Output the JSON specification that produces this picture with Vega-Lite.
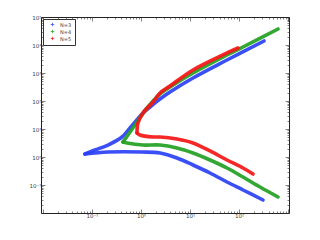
{
  "$schema": "https://vega.github.io/schema/vega-lite/v6.json",
  "width": 248,
  "height": 196,
  "autosize": {"type": "none"},
  "padding": {"left": 41, "top": 17, "right": 31, "bottom": 27},
  "background": "white",
  "config": {
    "view": {"stroke": "#222", "strokeWidth": 1},
    "axis": {
      "domain": false,
      "grid": false,
      "title": null,
      "labelFont": "DejaVu Sans",
      "labelFontSize": 5.5,
      "labelColor": "#444",
      "tickColor": "#333",
      "tickWidth": 0.6,
      "labelOverlap": false
    }
  },
  "data": {
    "values": [
      {"N": "N=3", "b": "u", "i": 0, "x": 0.072, "y": 1.28},
      {"N": "N=3", "b": "u", "i": 1, "x": 0.1151, "y": 1.78},
      {"N": "N=3", "b": "u", "i": 2, "x": 0.2121, "y": 2.68},
      {"N": "N=3", "b": "u", "i": 3, "x": 0.4095, "y": 5.18},
      {"N": "N=3", "b": "u", "i": 4, "x": 0.5963, "y": 10.9},
      {"N": "N=3", "b": "u", "i": 5, "x": 1.099, "y": 37.3},
      {"N": "N=3", "b": "u", "i": 6, "x": 1.526, "y": 61.1},
      {"N": "N=3", "b": "u", "i": 7, "x": 2.442, "y": 118},
      {"N": "N=3", "b": "u", "i": 8, "x": 3.907, "y": 210},
      {"N": "N=3", "b": "u", "i": 9, "x": 11.51, "y": 663},
      {"N": "N=3", "b": "u", "i": 10, "x": 56.9, "y": 2910},
      {"N": "N=3", "b": "u", "i": 11, "x": 323.8, "y": 13900},
      {"N": "N=3", "b": "l", "i": 0, "x": 0.072, "y": 1.28},
      {"N": "N=3", "b": "l", "i": 1, "x": 0.2121, "y": 1.51},
      {"N": "N=3", "b": "l", "i": 2, "x": 1.048, "y": 1.51},
      {"N": "N=3", "b": "l", "i": 3, "x": 2.442, "y": 1.39},
      {"N": "N=3", "b": "l", "i": 4, "x": 5.429, "y": 0.921},
      {"N": "N=3", "b": "l", "i": 5, "x": 11.51, "y": 0.518},
      {"N": "N=3", "b": "l", "i": 6, "x": 25.6, "y": 0.268},
      {"N": "N=3", "b": "l", "i": 7, "x": 56.9, "y": 0.128},
      {"N": "N=3", "b": "l", "i": 8, "x": 120.7, "y": 0.0663},
      {"N": "N=3", "b": "l", "i": 9, "x": 309.0, "y": 0.0291},
      {"N": "N=4", "b": "u", "i": 0, "x": 0.4292, "y": 3.43},
      {"N": "N=4", "b": "u", "i": 1, "x": 0.5429, "y": 6.11},
      {"N": "N=4", "b": "u", "i": 2, "x": 0.8286, "y": 17.8},
      {"N": "N=4", "b": "u", "i": 3, "x": 1.326, "y": 56.2},
      {"N": "N=4", "b": "u", "i": 4, "x": 2.442, "y": 178},
      {"N": "N=4", "b": "u", "i": 5, "x": 3.907, "y": 316},
      {"N": "N=4", "b": "u", "i": 6, "x": 11.51, "y": 1000},
      {"N": "N=4", "b": "u", "i": 7, "x": 56.9, "y": 4394},
      {"N": "N=4", "b": "u", "i": 8, "x": 120.7, "y": 8490},
      {"N": "N=4", "b": "u", "i": 9, "x": 625.2, "y": 37280},
      {"N": "N=4", "b": "l", "i": 0, "x": 0.4292, "y": 3.43},
      {"N": "N=4", "b": "l", "i": 1, "x": 0.5179, "y": 3.16},
      {"N": "N=4", "b": "l", "i": 2, "x": 1.099, "y": 2.68},
      {"N": "N=4", "b": "l", "i": 3, "x": 2.442, "y": 2.68},
      {"N": "N=4", "b": "l", "i": 4, "x": 5.429, "y": 2.1},
      {"N": "N=4", "b": "l", "i": 5, "x": 11.51, "y": 1.39},
      {"N": "N=4", "b": "l", "i": 6, "x": 25.6, "y": 0.781},
      {"N": "N=4", "b": "l", "i": 7, "x": 56.9, "y": 0.405},
      {"N": "N=4", "b": "l", "i": 8, "x": 120.7, "y": 0.193},
      {"N": "N=4", "b": "l", "i": 9, "x": 268.3, "y": 0.0848},
      {"N": "N=4", "b": "l", "i": 10, "x": 625.2, "y": 0.0373},
      {"N": "N=5", "b": "u", "i": 0, "x": 0.8286, "y": 7.2},
      {"N": "N=5", "b": "u", "i": 1, "x": 0.8685, "y": 16.4},
      {"N": "N=5", "b": "u", "i": 2, "x": 1.099, "y": 37.3},
      {"N": "N=5", "b": "u", "i": 3, "x": 1.758, "y": 92.1},
      {"N": "N=5", "b": "u", "i": 4, "x": 2.442, "y": 193},
      {"N": "N=5", "b": "u", "i": 5, "x": 3.907, "y": 343},
      {"N": "N=5", "b": "u", "i": 6, "x": 11.51, "y": 1280},
      {"N": "N=5", "b": "u", "i": 7, "x": 56.9, "y": 5180},
      {"N": "N=5", "b": "u", "i": 8, "x": 95.4, "y": 7810},
      {"N": "N=5", "b": "l", "i": 0, "x": 0.8286, "y": 7.2},
      {"N": "N=5", "b": "l", "i": 1, "x": 0.9541, "y": 6.11},
      {"N": "N=5", "b": "l", "i": 2, "x": 1.758, "y": 5.18},
      {"N": "N=5", "b": "l", "i": 3, "x": 2.442, "y": 5.18},
      {"N": "N=5", "b": "l", "i": 4, "x": 5.429, "y": 4.39},
      {"N": "N=5", "b": "l", "i": 5, "x": 11.51, "y": 3.16},
      {"N": "N=5", "b": "l", "i": 6, "x": 25.6, "y": 1.64},
      {"N": "N=5", "b": "l", "i": 7, "x": 56.9, "y": 0.781},
      {"N": "N=5", "b": "l", "i": 8, "x": 120.7, "y": 0.405},
      {"N": "N=5", "b": "l", "i": 9, "x": 193.1, "y": 0.247}
    ]
  },
  "layer": [
    {
      "mark": {"type": "line", "strokeWidth": 3.6, "strokeCap": "round", "strokeJoin": "round", "interpolate": "catmull-rom", "opacity": 0.92},
      "encoding": {
        "x": {
          "field": "x", "type": "quantitative",
          "scale": {"type": "log", "domain": [0.00912, 1047], "nice": false},
          "axis": {
            "orient": "bottom",
            "tickCount": 30,
            "labelPadding": 4,
            "tickSize": {"condition": {"test": "abs(log(datum.value)/LN10 - round(log(datum.value)/LN10)) < 0.001", "value": -4}, "value": -2},
            "labelExpr": "abs(log(datum.value)/LN10 - round(log(datum.value)/LN10)) < 0.001 ? ['', '10⁻¹', '10⁰', '10¹', '10²', ''][round(log(datum.value)/LN10) + 2] : ''"
          }
        },
        "y": {
          "field": "y", "type": "quantitative",
          "scale": {"type": "log", "domain": [0.01, 100000], "nice": false},
          "axis": {
            "orient": "left",
            "tickCount": 30,
            "labelPadding": 4,
            "tickSize": {"condition": {"test": "abs(log(datum.value)/LN10 - round(log(datum.value)/LN10)) < 0.001", "value": -4}, "value": -2},
            "labelExpr": "abs(log(datum.value)/LN10 - round(log(datum.value)/LN10)) < 0.001 ? ['', '10⁻¹', '10⁰', '10¹', '10²', '10³', '10⁴', '10⁵'][round(log(datum.value)/LN10) + 2] : ''"
          }
        },
        "color": {
          "field": "N", "type": "nominal",
          "scale": {"domain": ["N=3", "N=4", "N=5"], "range": ["#2a40f5", "#22a022", "#f51515"]},
          "legend": {
            "title": null,
            "orient": "none",
            "legendX": 2,
            "legendY": 2,
            "direction": "vertical",
            "symbolType": "M-1,0H1M0,-1V1",
            "symbolSize": 12,
            "symbolStrokeWidth": 0.8,
            "labelFont": "DejaVu Sans",
            "labelFontSize": 5,
            "labelColor": "#444",
            "strokeColor": "#333",
            "fillColor": "white",
            "padding": 3,
            "rowPadding": 0,
            "labelOffset": 5,
            "symbolOffset": 4
          }
        },
        "detail": {"field": "b", "type": "nominal"},
        "order": {"field": "i", "type": "quantitative"}
      }
    },
    {
      "mark": {"type": "point", "opacity": 0},
      "encoding": {
        "x": {
          "field": "x", "type": "quantitative",
          "scale": {"type": "log", "domain": [0.00912, 1047], "nice": false},
          "axis": {
            "orient": "top",
            "tickCount": 30,
            "labels": false,
            "tickSize": {"condition": {"test": "abs(log(datum.value)/LN10 - round(log(datum.value)/LN10)) < 0.001", "value": -4}, "value": -2}
          }
        },
        "y": {
          "field": "y", "type": "quantitative",
          "scale": {"type": "log", "domain": [0.01, 100000], "nice": false},
          "axis": {
            "orient": "right",
            "tickCount": 30,
            "labels": false,
            "tickSize": {"condition": {"test": "abs(log(datum.value)/LN10 - round(log(datum.value)/LN10)) < 0.001", "value": -4}, "value": -2}
          }
        }
      }
    }
  ],
  "resolve": {"axis": {"x": "independent", "y": "independent"}}
}
